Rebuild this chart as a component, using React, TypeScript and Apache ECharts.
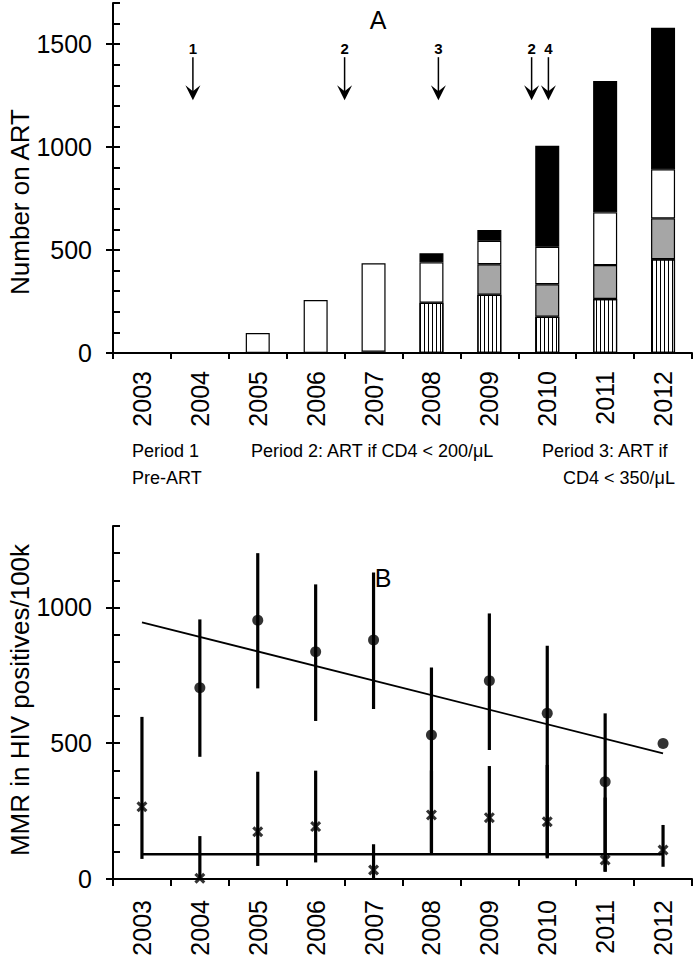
import React, { useEffect, useRef } from "react";
import * as echarts from "echarts";

const years = ["2003", "2004", "2005", "2006", "2007", "2008", "2009", "2010", "2011", "2012"];

// Panel A: number on ART, stacked segments (bottom to top)
const striped = [0, 0, 0, 0, 6, 244, 283, 176, 262, 455];
const gray = [0, 0, 0, 0, 0, 0, 148, 158, 165, 199];
const white = [0, 0, 97, 257, 430, 196, 114, 182, 256, 238];
const black = [0, 0, 0, 0, 0, 44, 52, 491, 638, 688];

// arrows: position on category index scale, labels
const arrowPos = [0.88, 3.5, 5.12, 6.73, 7.02];
const arrowLabels = ["1", "2", "3", "2", "4"];
const arrowTip = 1228;

// Panel B
const circleVal = [null, 704, 953, 837, 880, 530, 730, 610, 358, 499];
const circleLow = [null, 450, 702, 582, 626, 100, 475, 76, 27, null];
const circleHigh = [null, 956, 1200, 1085, 1129, 779, 978, 859, 610, null];
const crossVal = [266, 3, 174, 193, 33, 236, 226, 211, 70, 107];
const crossLow = [74, 0, 48, 61, 0, 95, 95, 80, 27, 45];
const crossHigh = [597, 158, 395, 399, 128, 400, 416, 420, 300, 199];
const circleTrend = [945, 463];
const crossTrend = [91, 91];

const yTicksA = { min: 0, max: 1700, interval: 500 };
const yTicksB = { min: 0, max: 1300, interval: 500 };

const FONT = "'Liberation Sans', Arial, Helvetica, sans-serif";

function nz(a: number[]) {
  return a.map((v) => (v ? v : "-"));
}

export default function App() {
  const ref = useRef<HTMLDivElement>(null);
  useEffect(() => {
    if (!ref.current) return;
    const chart = echarts.init(ref.current, null, { renderer: "svg" });

    const axisLine = { show: true, onZero: false, lineStyle: { color: "#000", width: 2 } };
    const catAxis = (gridIndex: number, tickLen: number, margin: number) => ({
      type: "category",
      gridIndex,
      data: years,
      boundaryGap: true,
      axisLine,
      axisTick: { show: true, length: tickLen, lineStyle: { color: "#000", width: 2 }, alignWithLabel: false, interval: 0 },
      axisLabel: { rotate: 90, interval: 0, fontSize: 25, color: "#000", fontFamily: FONT, margin },
      splitLine: { show: false },
    });
    const hiddenVal = (gridIndex: number) => ({
      type: "value",
      gridIndex,
      min: -0.5,
      max: 9.5,
      show: false,
      axisLine: { show: false, onZero: false },
    });
    const majorY = (gridIndex: number, t: any) => ({
      type: "value",
      gridIndex,
      min: t.min,
      max: t.max,
      interval: t.interval,
      axisLine,
      axisTick: { show: true, length: 7, lineStyle: { color: "#000", width: 2 } },
      axisLabel: {
        fontSize: 25,
        color: "#000",
        fontFamily: FONT,
        margin: 21,
        showMaxLabel: false,
        formatter: (v: number) => String(v),
      },
      splitLine: { show: false },
    });
    const minorY = (gridIndex: number, t: any) => ({
      type: "value",
      gridIndex,
      min: t.min,
      max: t.max,
      interval: 100,
      position: "left",
      offset: 0,
      axisLine: { show: false, onZero: false },
      axisTick: { show: true, inside: true, length: 7, lineStyle: { color: "#000", width: 2 } },
      axisLabel: { show: false },
      splitLine: { show: false },
    });

    const barCommon = {
      type: "bar",
      xAxisIndex: 0,
      yAxisIndex: 0,
      stack: "art",
      barWidth: 24,
    };

    const errRender = (params: any, api: any) => {
      const p1 = api.coord([api.value(0), api.value(1)]);
      const p2 = api.coord([api.value(0), api.value(2)]);
      return {
        type: "line",
        shape: { x1: p1[0], y1: p1[1], x2: p2[0], y2: p2[1] },
        style: { stroke: "#000", lineWidth: 3.2 },
      };
    };

    const circleErr = years
      .map((_, i) => (circleLow[i] != null ? [i, circleLow[i], circleHigh[i]] : null))
      .filter((d) => d);
    const crossErr = years.map((_, i) => [i, crossLow[i], crossHigh[i]]);

    const crossSymbol =
      "path://M0,2 L2,0 L5,3 L8,0 L10,2 L7,5 L10,8 L8,10 L5,7 L2,10 L0,8 L3,5 Z";

    const option: any = {
      animation: false,
      backgroundColor: "#fff",
      textStyle: { fontFamily: FONT },
      grid: [
        { left: 113, top: 3, width: 579, height: 350 },
        { left: 113, top: 526, width: 579, height: 353 },
      ],
      xAxis: [catAxis(0, 6, 18), hiddenVal(0), catAxis(1, 7, 21)],
      yAxis: [majorY(0, yTicksA), minorY(0, yTicksA), majorY(1, yTicksB), minorY(1, yTicksB)],
      graphic: [
        { type: "text", x: 378, y: 20, style: { text: "A", font: `25px ${FONT}`, fill: "#000", align: "center", verticalAlign: "middle" } },
        { type: "text", x: 383, y: 578, style: { text: "B", font: `25px ${FONT}`, fill: "#000", align: "center", verticalAlign: "middle" } },
        { type: "text", x: 20, y: 202, rotation: Math.PI / 2, style: { text: "Number on ART", font: `26px ${FONT}`, fill: "#000", align: "center", verticalAlign: "middle" } },
        { type: "text", x: 20, y: 700, rotation: Math.PI / 2, style: { text: "MMR in HIV positives/100k", font: `26px ${FONT}`, fill: "#000", align: "center", verticalAlign: "middle" } },
        { type: "text", x: 132, y: 451, style: { text: "Period 1", font: `18px ${FONT}`, fill: "#000", align: "left", verticalAlign: "middle" } },
        { type: "text", x: 132, y: 478, style: { text: "Pre-ART", font: `18px ${FONT}`, fill: "#000", align: "left", verticalAlign: "middle" } },
        { type: "text", x: 251, y: 451, style: { text: "Period 2: ART if CD4 < 200/\u03bcL", font: `18px ${FONT}`, fill: "#000", align: "left", verticalAlign: "middle" } },
        { type: "text", x: 542, y: 451, style: { text: "Period 3: ART if", font: `18px ${FONT}`, fill: "#000", align: "left", verticalAlign: "middle" } },
        { type: "text", x: 675, y: 478, style: { text: "CD4 < 350/\u03bcL", font: `18px ${FONT}`, fill: "#000", align: "right", verticalAlign: "middle" } },
      ],
      series: [
        {
          ...barCommon,
          name: "striped",
          data: nz(striped),
          itemStyle: {
            color: "#fff",
            borderColor: "#000",
            borderWidth: 1.2,
            decal: {
              symbol: "rect",
              symbolSize: 1,
              color: "#000",
              backgroundColor: "#fff",
              dashArrayX: [1, 3],
              dashArrayY: [100, 0],
              rotation: 0,
            },
          },
        },
        { ...barCommon, name: "gray", data: nz(gray), itemStyle: { color: "#a6a6a6", borderColor: "#000", borderWidth: 1.2 } },
        { ...barCommon, name: "white", data: nz(white), itemStyle: { color: "#fff", borderColor: "#000", borderWidth: 1.2 } },
        { ...barCommon, name: "black", data: nz(black), itemStyle: { color: "#000", borderColor: "#000", borderWidth: 1.2 } },
        {
          type: "custom",
          name: "arrows",
          xAxisIndex: 1,
          yAxisIndex: 0,
          data: arrowPos.map((x) => [x, arrowTip]),
          renderItem: (params: any, api: any) => {
            const tip = api.coord([api.value(0), api.value(1)]);
            const x = tip[0];
            const y = tip[1];
            return {
              type: "group",
              children: [
                { type: "line", shape: { x1: x, y1: y - 43, x2: x, y2: y - 8 }, style: { stroke: "#000", lineWidth: 1.5 } },
                { type: "polygon", shape: { points: [[x, y], [x - 7.5, y - 15], [x, y - 9], [x + 7.5, y - 15]] }, style: { fill: "#000" } },
                { type: "text", style: { text: arrowLabels[params.dataIndex], x, y: y - 52, align: "center", verticalAlign: "middle", font: `bold 15px ${FONT}`, fill: "#000" } },
              ],
            };
          },
        },
        {
          type: "custom",
          name: "circleErr",
          xAxisIndex: 2,
          yAxisIndex: 2,
          data: circleErr,
          encode: { x: 0, y: [1, 2] },
          renderItem: errRender,
          z: 2,
        },
        {
          type: "custom",
          name: "crossErr",
          xAxisIndex: 2,
          yAxisIndex: 2,
          data: crossErr,
          encode: { x: 0, y: [1, 2] },
          renderItem: errRender,
          z: 2,
        },
        {
          type: "line",
          name: "circleTrend",
          xAxisIndex: 2,
          yAxisIndex: 2,
          data: [[years[0], circleTrend[0]], [years[years.length - 1], circleTrend[1]]],
          symbol: "none",
          lineStyle: { color: "#000", width: 1.8 },
          z: 3,
        },
        {
          type: "line",
          name: "crossTrend",
          xAxisIndex: 2,
          yAxisIndex: 2,
          data: [[years[0], crossTrend[0]], [years[years.length - 1], crossTrend[1]]],
          symbol: "none",
          lineStyle: { color: "#000", width: 2.6 },
          z: 3,
        },
        {
          type: "scatter",
          name: "circles",
          xAxisIndex: 2,
          yAxisIndex: 2,
          data: circleVal.map((v) => (v == null ? "-" : v)),
          symbol: "circle",
          symbolSize: 11,
          itemStyle: { color: "#000" },
          z: 4,
        },
        {
          type: "scatter",
          name: "crosses",
          xAxisIndex: 2,
          yAxisIndex: 2,
          data: crossVal,
          symbol: crossSymbol,
          symbolSize: 11,
          itemStyle: { color: "#000" },
          z: 4,
        },
      ],
    };
    chart.setOption(option);
    return () => chart.dispose();
  }, []);
  return (
    <div
      ref={ref}
      style={{ position: "absolute", left: 0, top: 0, width: 696, height: 959, background: "#fff" }}
    />
  );
}
